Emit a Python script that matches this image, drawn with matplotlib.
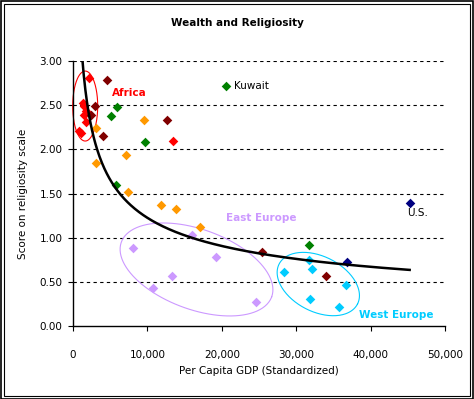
import numpy as np
import matplotlib.pyplot as plt
from matplotlib.patches import Rectangle

# country groups: per capita GDP and religiosity score
africa_gdp = [2150, 1380, 1520, 1750, 1480, 1750, 810, 1140, 13480]
africa_score = [2.81, 2.52, 2.49, 2.43, 2.39, 2.31, 2.21, 2.19, 2.09]

maroon_gdp = [4610, 2960, 2420, 4080, 12680, 25360, 34000]
maroon_score = [2.79, 2.49, 2.39, 2.15, 2.33, 0.84, 0.57]

green_gdp = [5870, 5110, 9720, 5780, 20560, 31770]
green_score = [2.48, 2.38, 2.08, 1.60, 2.72, 0.92]

orange_gdp = [3050, 9580, 3090, 7120, 7390, 11830, 13890, 17070]
orange_score = [2.24, 2.33, 1.84, 1.94, 1.52, 1.37, 1.32, 1.12]

easteu_gdp = [8110, 10800, 13350, 16040, 19270, 24640]
easteu_score = [0.88, 0.43, 0.57, 1.03, 0.78, 0.27]

westeu_gdp = [28410, 31680, 32170, 36650, 31900, 35790]
westeu_score = [0.61, 0.75, 0.65, 0.46, 0.31, 0.22]

navy_gdp = [36870, 45250]
navy_score = [0.72, 1.39]

# power trendline y = a * x^b
trend_a = 67.3
trend_b = -0.435

W, H = 474, 399
fig = plt.figure(figsize=(W / 100, H / 100), dpi=100)
plt.rcParams['font.family'] = 'DejaVu Sans'

# double frame round the chart
fig.patches.append(Rectangle((0.5 / W, 0.5 / H), 1 - 1.5 / W, 1 - 1.5 / H, transform=fig.transFigure,
                             fill=False, ec='black', lw=1.2))
fig.patches.append(Rectangle((3.5 / W, 3.5 / H), 1 - 7.5 / W, 1 - 7.5 / H, transform=fig.transFigure,
                             fill=False, ec='black', lw=0.8))

ax = fig.add_axes([73 / W, 73 / H, 372 / W, 265 / H])
ax.set_xlim(0, 50000)
ax.set_ylim(0, 3)

for y in np.arange(0.5, 3.01, 0.5):
    ax.axhline(y, color='black', lw=0.8, ls=(0, (3, 3)), zorder=1)

groups = [
    (africa_gdp, africa_score, '#FF0000'),
    (maroon_gdp, maroon_score, '#800000'),
    (green_gdp, green_score, '#008000'),
    (orange_gdp, orange_score, '#FF9900'),
    (easteu_gdp, easteu_score, '#CC99FF'),
    (westeu_gdp, westeu_score, '#00CCFF'),
    (navy_gdp, navy_score, '#000080'),
]
for gx, gy, c in groups:
    ax.scatter(gx, gy, marker='D', s=24, color=c, linewidths=0, zorder=3)

xs = np.linspace(1000, 45250, 400)
ax.plot(xs, trend_a * xs ** trend_b, color='black', lw=1.8, zorder=4)

# ellipses drawn in pixel units, then mapped back to data units
px_x = 372 / 50000
px_y = 265 / 3


def ellipse(cx, cy, a, b, ang, color):
    t = np.linspace(0, 2 * np.pi, 200)
    th = np.radians(ang)
    ex = a * np.cos(t) * np.cos(th) - b * np.sin(t) * np.sin(th)
    ey = a * np.cos(t) * np.sin(th) + b * np.sin(t) * np.cos(th)
    ax.plot(cx + ex / px_x, cy + ey / px_y, color=color, lw=0.8, zorder=2, clip_on=False)


ellipse(1640, 2.49, 12.5, 35, 0, '#FF0000')
ellipse(16600, 0.64, 80, 40, -20, '#CC99FF')
ellipse(32970, 0.475, 44, 27.6, -27, '#00CCFF')

ax.text(5200, 2.64, 'Africa', color='#FF0000', fontsize=7.5, fontweight='bold', va='center')
ax.text(21700, 2.72, 'Kuwait', color='black', fontsize=7.5, va='center')
ax.text(20500, 1.22, 'East Europe', color='#CC99FF', fontsize=7.5, fontweight='bold', va='center')
ax.text(44900, 1.28, 'U.S.', color='black', fontsize=7.5, va='center')
ax.text(38400, 0.12, 'West Europe', color='#00CCFF', fontsize=7.5, fontweight='bold', va='center')

ax.set_xticks(range(0, 50001, 10000))
ax.set_xticklabels(['0', '10,000', '20,000', '30,000', '40,000', '50,000'])
ax.set_yticks(np.arange(0, 3.01, 0.5))
ax.set_yticklabels(['%.2f' % v for v in np.arange(0, 3.01, 0.5)])
ax.tick_params(labelsize=7.5, length=3.5, width=0.8, direction='out')
ax.tick_params(axis='y', pad=4)
ax.tick_params(axis='x', pad=14)
for s in ['top', 'right']:
    ax.spines[s].set_visible(False)
for s in ['left', 'bottom']:
    ax.spines[s].set_linewidth(1.0)

ax.set_xlabel('Per Capita GDP (Standardized)', fontsize=7.5, labelpad=4)
ax.set_ylabel('Score on religiosity scale', fontsize=7.5, labelpad=8)
fig.text(237 / W, 1 - 23 / H, 'Wealth and Religiosity', ha='center', va='center', fontsize=7.5,
         fontweight='bold')

fig.savefig('out.png', dpi=100)
